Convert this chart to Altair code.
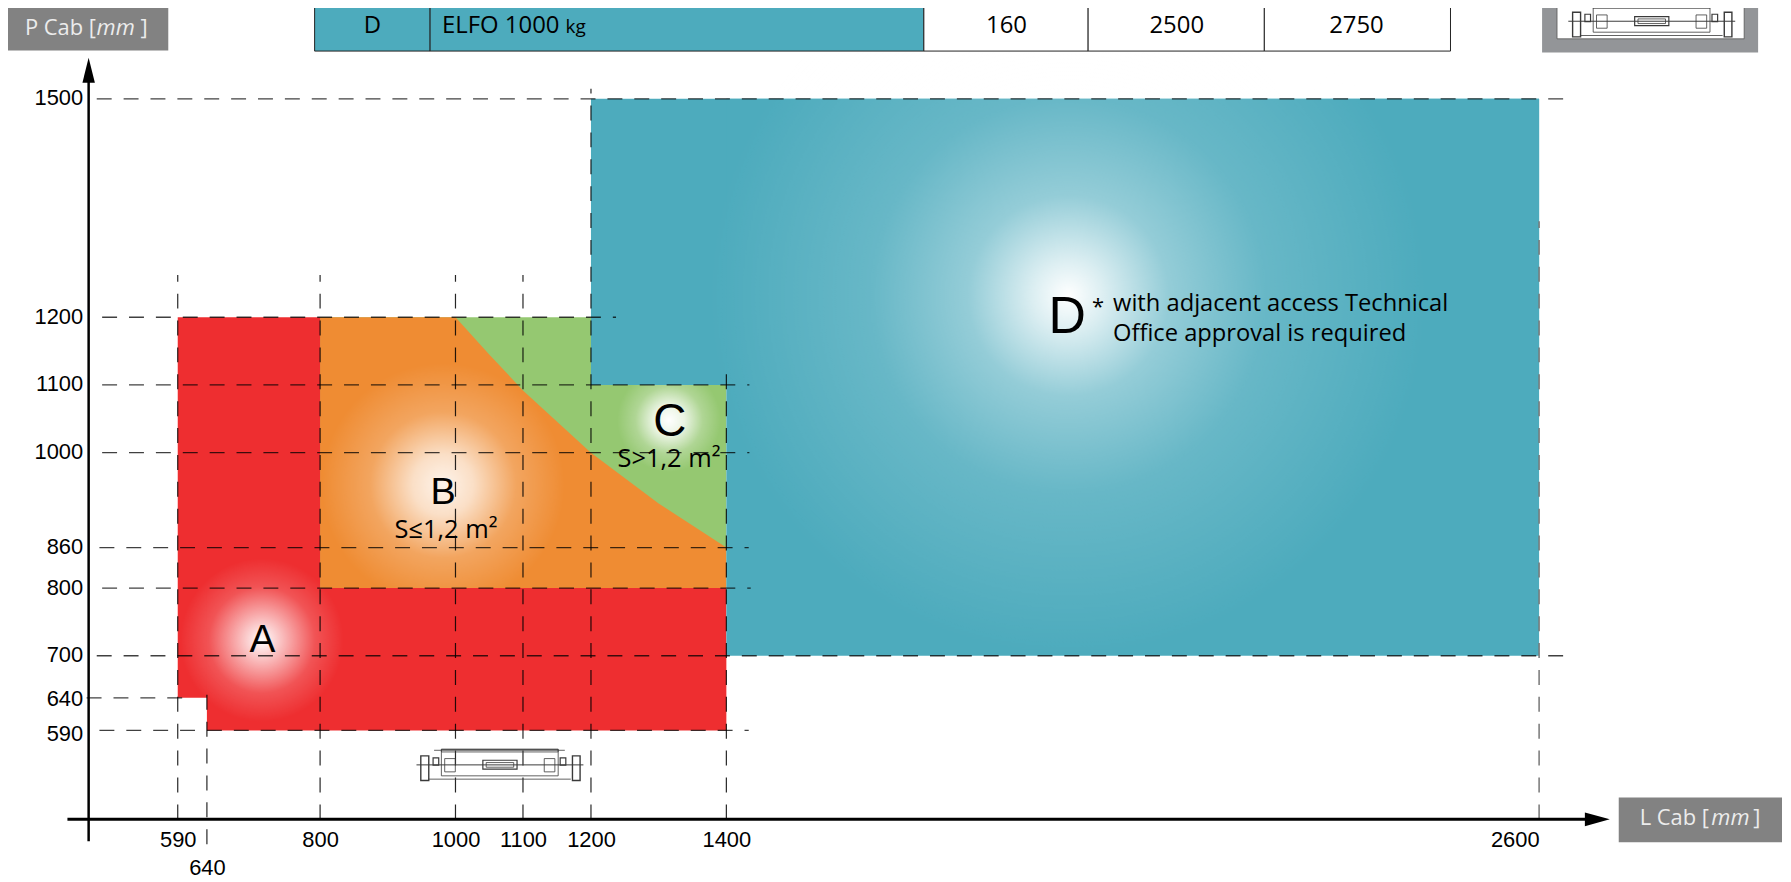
import altair as alt
import pandas as pd

# ---- axis values (mm) and where the drawing places them (page pixels: the scale is not uniform)
x_ticks = [590, 640, 800, 1000, 1100, 1200, 1400, 2600]
y_ticks = [590, 640, 700, 800, 860, 1000, 1100, 1200, 1500]
x_dom = [458] + x_ticks
x_pos = [89, 178.5, 207.8, 321.5, 457.5, 525.3, 593.6, 729.6, 1546]
y_dom = [454] + y_ticks
y_pos = [821, 731.7, 699, 656.7, 588.7, 548, 452.7, 384.7, 316.7, 97.3]
OX, OY = 89, 8

# ---- zones (mm)
red_x = [590, 640]
red_x2 = [800, 1400]
red_y = [640, 590]
red_y2 = [1200, 800]
limit_x = [800, 1000, 1050, 1100, 1200, 1300, 1400]
limit_y = [1200, 1200, 1145, 1092, 1000, 925, 860]
teal_x = [1200, 1400]
teal_x2 = [2600, 2600]
teal_y = [1100, 700]
teal_y2 = [1500, 1500]

# ---- dashed guide lines (mm)
v_at = [590, 640, 800, 1000, 1100, 1200, 1400]
v_from = [454, 416, 454, 454, 454, 454, 454]
v_to = [1258, 660, 1258, 1258, 1258, 1514, 1133]
h_at = [1500, 1200, 1100, 1000, 860, 800, 700, 640, 590]
h_from = [470, 478, 478, 478, 474, 478, 470, 455, 474]
h_to = [2645, 1237, 1434, 1434, 1433, 1436, 2645, 618, 1433]

# ---- table
cell_px = [316, 432, 928, 1093, 1270, 1457]
cell_fill = ["#4dabbd", "#4dabbd", "#ffffff", "#ffffff", "#ffffff"]

TEAL, RED, ORANGE, GREEN = "#4dabbd", "#ee2e30", "#ef8c33", "#95c871"
SANS, MYR = "Liberation Sans", "Open Sans"


def inv(p, dom, pos):
    n = len(dom)
    i = 0
    for k in range(n - 1):
        lo, hi = sorted((pos[k], pos[k + 1]))
        if lo <= p <= hi:
            i = k
            break
    else:
        i = 0 if abs(p - pos[0]) < abs(p - pos[-1]) else n - 2
    return dom[i] + (p - pos[i]) * (dom[i + 1] - dom[i]) / (pos[i + 1] - pos[i])


ix = lambda p: inv(p, x_dom, x_pos)
iy = lambda p: inv(p, y_dom, y_pos)

xs = alt.Scale(domain=x_dom, range=[p - OX for p in x_pos])
ys = alt.Scale(domain=y_dom, range=[p - OY for p in y_pos])
x_axis = alt.Axis(
    values=x_ticks, format="d", domain=False, ticks=False, grid=False, labelOverlap=False,
    labelFont=SANS, labelFontSize=22, labelColor="#000000", labelBaseline="middle",
    labelPadding={"condition": {"test": "datum.value === 640", "value": 48}, "value": 20})
y_axis = alt.Axis(
    values=y_ticks, format="d", domain=False, ticks=False, grid=False, labelOverlap=False,
    labelFont=SANS, labelFontSize=22, labelColor="#000000", labelPadding=6,
    labelOffset={"condition": [{"test": "datum.value === 590", "value": 3},
                               {"test": "datum.value === 640", "value": 1}], "value": -1})
X = alt.X("x:Q", scale=xs, title=None, axis=x_axis)
Y = alt.Y("y:Q", scale=ys, title=None, axis=y_axis)


def rects(x, x2, y, y2, **mark):
    d = pd.DataFrame({"x": x, "x2": x2, "y": y, "y2": y2})
    return alt.Chart(d).mark_rect(**mark).encode(x=X, x2="x2:Q", y=Y, y2="y2:Q")


def px_rect(x, x2, y, y2, **mark):
    return rects([ix(x)], [ix(x2)], [iy(y)], [iy(y2)], **mark)


def glow(cx, cy, r, stops):
    g = {"gradient": "radial",
         "stops": [{"offset": o, "color": f"rgba(255,255,255,{a})"} for o, a in stops]}
    d = pd.DataFrame({"x": [ix(cx)], "y": [iy(cy)]})
    return alt.Chart(d).mark_point(filled=True, fill=g, opacity=1, strokeWidth=0,
                                   shape="circle", size=(2 * r) ** 2).encode(x=X, y=Y)


def txt(s, x, y, size, font=MYR, color="#000000", align="center", style="normal"):
    d = pd.DataFrame({"x": [ix(x)], "y": [iy(y)], "t": [s]})
    return alt.Chart(d).mark_text(fontSize=size, font=font, color=color, align=align,
                                  baseline="middle", fontStyle=style).encode(x=X, y=Y, text="t:N")


def hline(x1, x2, y, **mark):
    d = pd.DataFrame({"x": [ix(x1)], "x2": [ix(x2)], "y": [iy(y)]})
    return alt.Chart(d).mark_rule(**mark).encode(x=X, x2="x2:Q", y=Y)


def vline(x, y1, y2, **mark):
    d = pd.DataFrame({"x": [ix(x)], "y": [iy(y1)], "y2": [iy(y2)]})
    return alt.Chart(d).mark_rule(**mark).encode(x=X, y=Y, y2="y2:Q")


def car(dx, dy):
    L = "#3a3a3a"
    z = lambda a, b: (400 + a / 3 + dx, 720 + b / 3 + dy)

    def box(a, b, c, e, w=0.8):
        (p, q), (r, s) = z(a, b), z(c, e)
        return px_rect(p, r, q, s, fillOpacity=0, stroke=L, strokeWidth=w)

    def ln(a, c, b, w=0.8):
        (p, q), (r, _) = z(a, b), z(c, b)
        return hline(p, r, q, stroke=L, strokeWidth=w)
    return [
        box(130, 92, 482, 172), box(130, 92, 482, 100), ln(108, 502, 95),
        ln(90, 520, 182), ln(55, 558, 139, 1.0),
        box(255, 125, 358, 152, 1.2), box(265, 132, 348, 146),
        box(68, 112, 92, 186, 1.4), box(525, 112, 548, 186, 1.4),
        box(140, 120, 172, 160), box(440, 120, 472, 160),
        box(105, 118, 122, 140, 1.2), box(488, 118, 505, 140, 1.2),
    ]


# zones, with their light centres, painted bottom to top
zones = [
    rects([800], [1400], [800], [1200], color=GREEN),
    glow(672, 420, 52, [(0, 1), (0.3, 0.8), (0.65, 0.25), (1, 0)]),
    alt.Chart(pd.DataFrame({"x": limit_x, "y": limit_y, "y2": [800] * len(limit_x)}))
    .mark_area(color=ORANGE, interpolate="linear").encode(x=X, y=Y, y2="y2:Q"),
    glow(445, 485, 122, [(0, 0.9), (0.25, 0.72), (0.6, 0.22), (1, 0)]),
    rects(red_x, red_x2, red_y, red_y2, color=RED),
    glow(263, 641, 82, [(0, 1), (0.3, 0.62), (0.65, 0.18), (1, 0)]),
    rects(teal_x, teal_x2, teal_y, teal_y2, color=TEAL),
    glow(1073, 295, 360, [(0, 1), (0.1, 0.8), (0.28, 0.4), (0.55, 0.15), (1, 0)]),
]

# guide lines
dash = [15, 12]
v_df = pd.DataFrame({"x": v_at, "y": v_from, "y2": v_to})
h_df = pd.DataFrame({"x": h_from, "x2": h_to, "y": h_at})
guides = [
    alt.Chart(v_df).mark_rule(stroke="#000000", strokeWidth=1.2, strokeDash=dash, opacity=0.85)
    .encode(x=X, y=Y, y2="y2:Q"),
    alt.Chart(h_df).mark_rule(stroke="#000000", strokeWidth=1.3, strokeDash=dash, opacity=0.75)
    .encode(x=X, x2="x2:Q", y=Y),
    alt.Chart(pd.DataFrame({"x": [2600], "y": [454], "y2": [1332]}))
    .mark_rule(stroke="#777777", strokeWidth=1.5, strokeDash=dash).encode(x=X, y=Y, y2="y2:Q"),
]

# axis lines and arrow heads
arrows = [
    hline(67.7, 1594, 821, stroke="#000000", strokeWidth=3),
    vline(89, 70, 843, stroke="#000000", strokeWidth=2.5),
    alt.Chart(pd.DataFrame({"x": [ix(89)], "y": [iy(68.5)]})).mark_point(
        filled=True, opacity=1, color="#000000", strokeWidth=0, size=625,
        shape="M0,-1L0.5,1L-0.5,1Z").encode(x=X, y=Y),
    alt.Chart(pd.DataFrame({"x": [ix(1604.5)], "y": [iy(821)]})).mark_point(
        filled=True, opacity=1, color="#000000", strokeWidth=0, size=625,
        shape="M1,0L-1,0.55L-1,-0.55Z").encode(x=X, y=Y),
]

# table at the top
table = []
for i, fill in enumerate(cell_fill):
    table.append(px_rect(cell_px[i], cell_px[i + 1], 0, 49.3, fill=fill, stroke="#222222", strokeWidth=1))
table += [
    txt("D", 374, 24, 24),
    txt("ELFO  1000", 444, 24, 24, align="left"),
    txt("kg", 568, 25, 19, align="left"),
    txt("160", 1011, 24, 24),
    txt("2500", 1182, 24, 24),
    txt("2750", 1362.5, 24, 24),
]

# grey axis-name tags
tags = [
    px_rect(5, 169, 4, 48.7, color="#828282"),
    txt("P Cab [", 25, 26, 22, color="#ececec", align="left"),
    txt("mm", 97, 26, 22, color="#ececec", align="left", style="italic"),
    txt("]", 141, 26, 22, color="#ececec", align="left"),
    px_rect(1626, 1790, 799, 844, color="#828282"),
    txt("L Cab [", 1647, 820, 22, color="#ececec", align="left"),
    txt("mm", 1719, 820, 22, color="#ececec", align="left", style="italic"),
    txt("]", 1761, 820, 22, color="#ececec", align="left"),
]

# small plan views of the car
icons = car(0, 0) + [
    px_rect(1549, 1766, 0, 50.7, color="#939598"),
    px_rect(1564, 1752, 0, 37, fill="#ffffff", stroke="#555555", strokeWidth=0.8),
] + car(1157, -747)

labels = [
    txt("A", 263.5, 641, 39, font=SANS),
    txt("B", 445, 493, 38, font=SANS),
    txt("C", 672.8, 421.7, 46, font=SANS),
    txt("D", 1072, 317, 52, font=SANS),
    txt("S≤1,2 m²", 448, 530, 25.5),
    txt("S>1,2 m²", 672, 459, 25.5),
    txt("*", 1103, 306, 22),
    txt("with adjacent access Technical", 1118, 303, 23.8, align="left"),
    txt("Office approval is required", 1118, 334, 23.8, align="left"),
]

chart = alt.layer(*zones, *guides, *arrows, *table, *tags, *icons, *labels).properties(
    width=1702, height=813,
    padding={"left": 81, "top": 0, "right": 0, "bottom": 59},
    autosize=alt.AutoSizeParams(type="none"),
).configure_view(stroke=None)

chart.save("out.html", embed_options={"renderer": "svg", "actions": False})
